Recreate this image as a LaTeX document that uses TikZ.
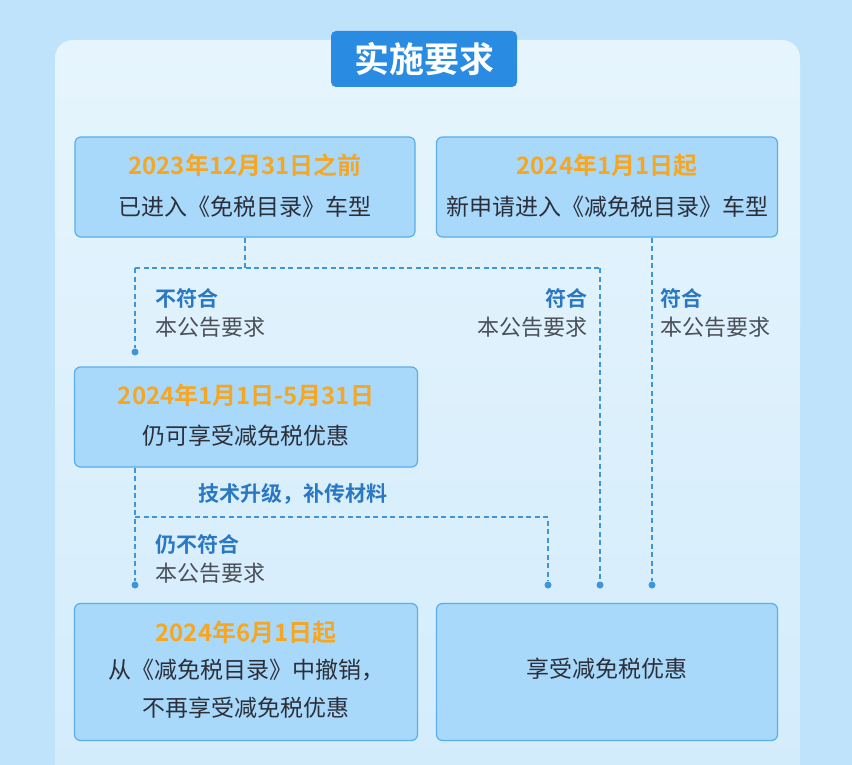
\documentclass[tikz,border=0pt]{standalone}
\usepackage{fontspec}
\setmainfont{Noto Sans CJK SC}
\newfontfamily\cjkb{Noto Sans CJK SC Bold}
\begin{document}
\begin{tikzpicture}[x=1pt,y=-1pt,
  box/.style={draw=boxline,line width=1.2pt,fill=boxfill,rounded corners=6pt},
  dline/.style={draw=lineblue,line width=1.3pt,dash pattern=on 5pt off 3.5pt},
  dot/.style={circle,fill=lineblue,inner sep=0pt,minimum size=7pt},
  datet/.style={text=dateor,font=\cjkb\fontsize{24}{28}\selectfont},
  maint/.style={text=maintxt,font=\fontsize{23}{27}\selectfont},
  lab/.style={text=labblue,font=\cjkb\fontsize{21}{24}\selectfont,inner sep=0pt},
  labg/.style={text=graytxt,font=\fontsize{22}{25}\selectfont,inner sep=0pt}]
\definecolor{boxline}{HTML}{5AAEEA}
\definecolor{boxfill}{HTML}{A9D9FA}
\definecolor{lineblue}{HTML}{3E95DA}
\definecolor{dateor}{HTML}{F5A623}
\definecolor{maintxt}{HTML}{2B2F3A}
\definecolor{labblue}{HTML}{2A77C4}
\definecolor{graytxt}{HTML}{4A4F58}
\definecolor{bgout}{HTML}{BFE3FA}
\definecolor{bgin}{HTML}{E6F5FD}
\definecolor{tab}{HTML}{2A8BE2}
\useasboundingbox (0,0) rectangle (852,765);
\fill[bgout] (0,0) rectangle (852,765);
\shade[top color=bgin,bottom color=bgout!70!white,rounded corners=18pt] (55,40) rectangle (800,800);
\node[fill=tab,rounded corners=5pt,minimum width=186pt,minimum height=56pt,text=white,font=\cjkb\fontsize{35}{38}\selectfont] (title) at (424,59) {实施要求};
% boxes
\node[box,minimum width=340pt,minimum height=100pt] (b1) at (245,187) {};
\node[box,minimum width=341pt,minimum height=100pt] (b2) at (607,187) {};
\node[box,minimum width=343pt,minimum height=100pt] (b3) at (246,417) {};
\node[box,minimum width=343pt,minimum height=137pt] (b4) at (246,672) {};
\node[box,minimum width=341pt,minimum height=137pt] (b5) at (607,672) {};
\node[datet] (t1a) at (245,165) {2023年12月31日之前};
\node[maint] (t1b) at (245,207) {已进入《免税目录》车型};
\node[datet] (t2a) at (607,165) {2024年1月1日起};
\node[maint] (t2b) at (607,207) {新申请进入《减免税目录》车型};
\node[datet] (t3a) at (246,395) {2024年1月1日-5月31日};
\node[maint] (t3b) at (246,436) {仍可享受减免税优惠};
\node[datet] (t4a) at (246,632) {2024年6月1日起};
\node[maint] (t4b) at (246,670) {从《减免税目录》中撤销，};
\node[maint] (t4c) at (246,708) {不再享受减免税优惠};
\node[maint] (t5) at (607,669) {享受减免税优惠};
% connectors
\coordinate (j1) at (245,268);
\coordinate (jl) at (135,268);
\coordinate (jr) at (600,268);
\node[dot] (d1) at (135,352) {};
\node[dot] (d2) at (600,585) {};
\node[dot] (d3) at (652,585) {};
\coordinate (j2) at (135,517);
\coordinate (j3) at (548,517);
\node[dot] (d4) at (548,585) {};
\node[dot] (d5) at (135,585) {};
\draw[dline] (b1.south) -- (j1);
\draw[dline] (jl) -- (jr);
\draw[dline] (jl) -- (d1);
\draw[dline] (jr) -- (d2);
\draw[dline] (b2.south -| d3) -- (d3);
\draw[dline] (b3.south -| j2) -- (d5);
\draw[dline] (j2) -- (j3) -- (d4);
% labels
\node[lab,anchor=west] (l1) at (155,298) {不符合};
\node[labg,anchor=west] (l1b) at (155,327) {本公告要求};
\node[lab,anchor=east] (l2) at (588,298) {符合};
\node[labg,anchor=east] (l2b) at (588,327) {本公告要求};
\node[lab,anchor=west] (l3) at (660,298) {符合};
\node[labg,anchor=west] (l3b) at (660,327) {本公告要求};
\node[lab,anchor=west] (l4) at (198,494) {技术升级，补传材料};
\node[lab,anchor=west] (l5) at (155,545) {仍不符合};
\node[labg,anchor=west] (l5b) at (155,573) {本公告要求};
\end{tikzpicture}
\end{document}
